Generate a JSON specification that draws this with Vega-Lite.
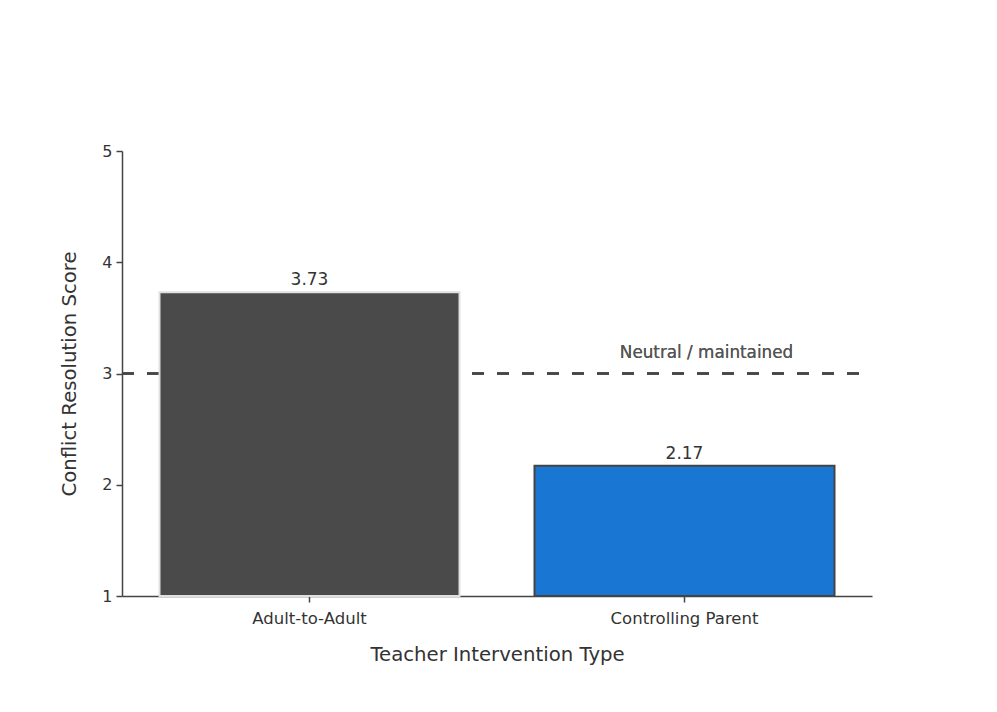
{
  "$schema": "https://vega.github.io/schema/vega-lite/v6.json",
  "width": 750,
  "height": 445,
  "autosize": {"type": "none"},
  "padding": {"left": 122, "top": 151, "right": 125, "bottom": 116},
  "background": "white",
  "config": {
    "view": {"stroke": null},
    "font": "DejaVu Sans"
  },
  "data": {
    "values": [
      {"type": "Adult-to-Adult", "score": 3.73, "color": "#4a4a4a", "stroke": "#e0e0e0"},
      {"type": "Controlling Parent", "score": 2.17, "color": "#1976d2", "stroke": "#444444"}
    ]
  },
  "encoding": {
    "x": {
      "field": "type",
      "type": "nominal",
      "sort": null,
      "scale": {"paddingInner": 0.2, "paddingOuter": 0.1},
      "axis": {
        "title": "Teacher Intervention Type",
        "labelAngle": 0,
        "labelFont": "DejaVu Sans",
        "labelFontSize": 16.5,
        "labelColor": "#333333",
        "labelPadding": 8,
        "titleFont": "DejaVu Sans",
        "titleFontSize": 19.7,
        "titleFontWeight": "normal",
        "titleColor": "#333333",
        "titlePadding": 18,
        "domainColor": "#444444",
        "domainWidth": 1.5,
        "tickColor": "#444444",
        "tickSize": 6,
        "tickWidth": 1.5
      }
    },
    "y": {
      "field": "score",
      "type": "quantitative",
      "scale": {"domain": [1, 5], "nice": false, "zero": false},
      "axis": {
        "title": "Conflict Resolution Score",
        "values": [1, 2, 3, 4, 5],
        "grid": false,
        "labelFont": "DejaVu Sans",
        "labelFontSize": 16,
        "labelColor": "#333333",
        "labelPadding": 4,
        "titleFont": "DejaVu Sans",
        "titleFontSize": 19.7,
        "titleFontWeight": "normal",
        "titleColor": "#333333",
        "titlePadding": 22,
        "domainColor": "#444444",
        "domainWidth": 1.5,
        "tickColor": "#444444",
        "tickSize": 6,
        "tickWidth": 1.5
      }
    }
  },
  "layer": [
    {
      "mark": {"type": "rule", "strokeDash": [12, 13], "strokeWidth": 2.5, "color": "#444444"},
      "encoding": {
        "x": {"value": 0},
        "x2": {"value": 740},
        "y": {"datum": 3}
      }
    },
    {
      "mark": {"type": "bar", "strokeWidth": 2},
      "encoding": {
        "color": {"field": "color", "type": "nominal", "scale": null},
        "stroke": {"field": "stroke", "type": "nominal", "scale": null},
        "y2": {"datum": 1}
      }
    },
    {
      "mark": {"type": "text", "baseline": "bottom", "dy": -3, "fontSize": 17, "color": "#333333", "font": "DejaVu Sans"},
      "encoding": {
        "text": {"field": "score", "type": "quantitative", "format": ".2f"}
      }
    },
    {
      "mark": {"type": "text", "baseline": "bottom", "dx": 22, "dy": -12, "fontSize": 16.8, "color": "#555555", "font": "DejaVu Sans", "text": "Neutral / maintained"},
      "encoding": {
        "x": {"datum": "Controlling Parent"},
        "y": {"datum": 3}
      }
    }
  ]
}
